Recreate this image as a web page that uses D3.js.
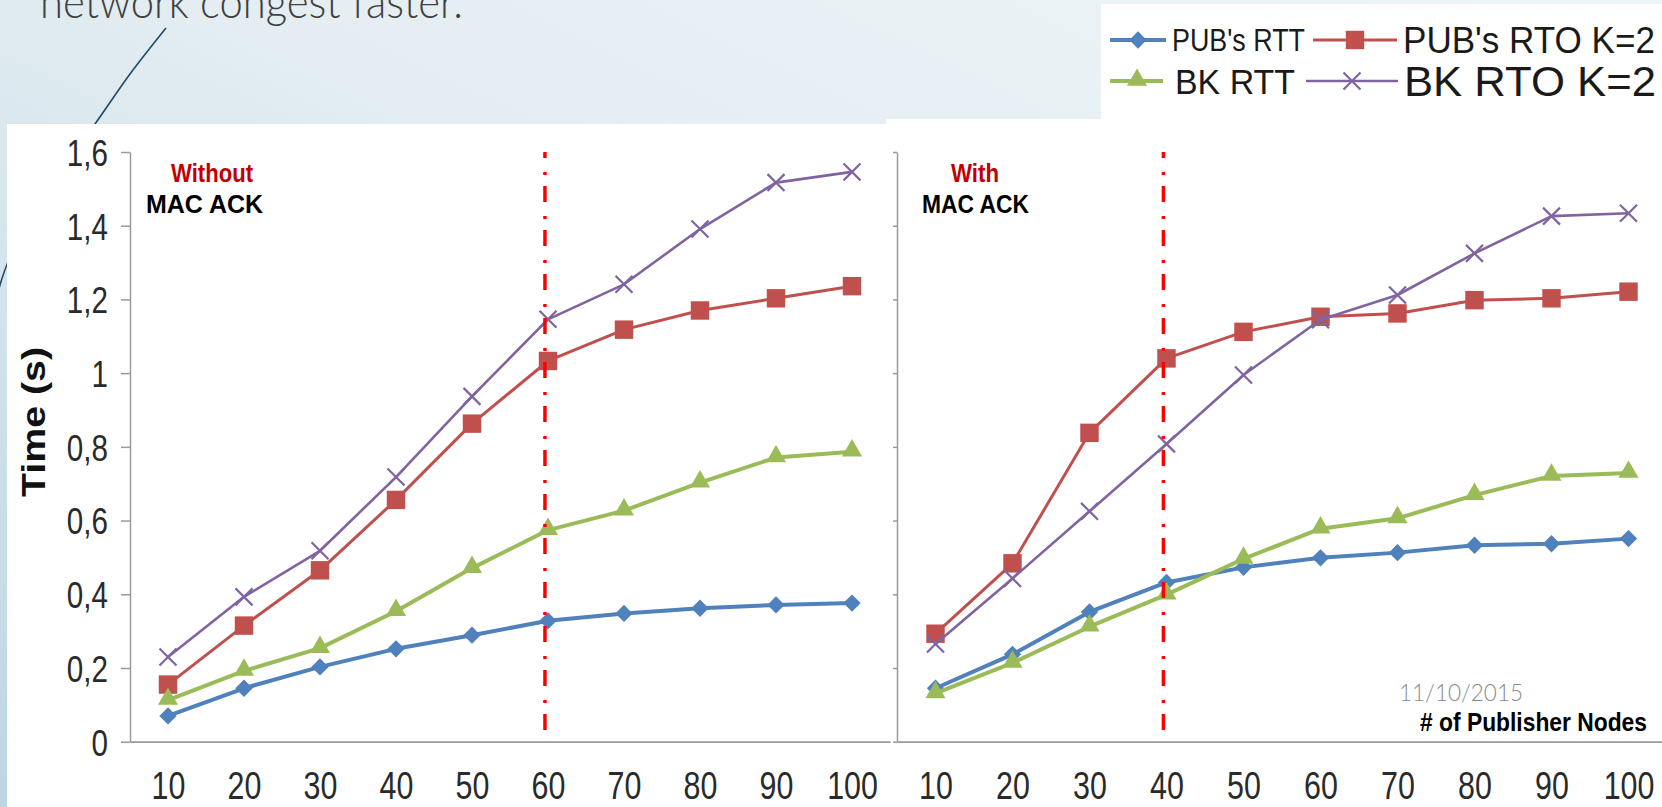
<!DOCTYPE html>
<html>
<head>
<meta charset="utf-8">
<script src="https://cdn.jsdelivr.net/npm/d3@7"></script>
<style>
html,body{margin:0;padding:0;overflow:hidden;background:#e6eff3;}
svg{display:block;}
</style>
</head>
<body>
<svg id="chart" width="1662" height="807"></svg>
<script>
// ---------------- data ----------------
const categories = [10, 20, 30, 40, 50, 60, 70, 80, 90, 100];
const yTicks = [0, 0.2, 0.4, 0.6, 0.8, 1, 1.2, 1.4, 1.6];
const yTickLabels = ["0", "0,2", "0,4", "0,6", "0,8", "1", "1,2", "1,4", "1,6"];
const seriesNames = ["PUB's RTT", "PUB's RTO K=2", "BK RTT", "BK RTO K=2"];

// Left panel: without MAC ACK
const leftPubRtt = [0.070, 0.145, 0.203, 0.252, 0.289, 0.328, 0.348, 0.362, 0.371, 0.376];
const leftPubRto = [0.155, 0.315, 0.465, 0.656, 0.863, 1.033, 1.118, 1.170, 1.203, 1.236];
const leftBkRtt  = [0.113, 0.192, 0.254, 0.354, 0.471, 0.574, 0.627, 0.703, 0.771, 0.787];
const leftBkRto  = [0.230, 0.393, 0.518, 0.718, 0.937, 1.146, 1.241, 1.391, 1.517, 1.546];

// Right panel: with MAC ACK
const rightPubRtt = [0.145, 0.237, 0.352, 0.432, 0.473, 0.499, 0.513, 0.533, 0.537, 0.551];
const rightPubRto = [0.293, 0.484, 0.838, 1.040, 1.112, 1.153, 1.162, 1.198, 1.203, 1.221];
const rightBkRtt  = [0.131, 0.214, 0.312, 0.399, 0.496, 0.578, 0.606, 0.669, 0.721, 0.729];
const rightBkRto  = [0.265, 0.443, 0.625, 0.808, 0.995, 1.145, 1.212, 1.325, 1.426, 1.434];

// vertical marker (red dash-dot) positions, in publisher-node units
const thresholdNodes = [59.6, 39.6];
const panelNotes = [["Without", "MAC ACK"], ["With", "MAC ACK"]];
const titleText = "network congest faster.";
const yAxisTitle = "Time (s)";
const xAxisTitle = "# of Publisher Nodes";
const dateText = "11/10/2015";

// ---------------- drawing ----------------
const W = 1662, H = 807;
const svg = d3.select("#chart");
const defs = svg.append("defs");
const grad = defs.append("linearGradient").attr("id", "bg")
  .attr("x1", "1").attr("y1", "0").attr("x2", "0").attr("y2", "1");
grad.append("stop").attr("offset", "0").attr("stop-color", "#eef5f8");
grad.append("stop").attr("offset", "0.45").attr("stop-color", "#e3edf2");
grad.append("stop").attr("offset", "1").attr("stop-color", "#bdd6e1");
svg.append("rect").attr("width", W).attr("height", H).attr("fill", "url(#bg)");

// slide title fragment (cut at the top, as in the slide)
svg.append("text").attr("x", 40).attr("y", 18)
  .attr("font-family", "Lato, 'Open Sans', sans-serif").attr("font-weight", 300)
  .attr("font-size", 46).attr("fill", "#404040")
  .attr("textLength", 423).attr("lengthAdjust", "spacingAndGlyphs")
  .text(titleText);

// decorative slide line
svg.append("path")
  .attr("d", d3.line().curve(d3.curveCatmullRom)([[166, 28], [130, 74], [95, 124], [45, 192], [8, 262], [-2, 292]]))
  .attr("fill", "none").attr("stroke", "#1f4a66").attr("stroke-width", 1.6);

// white chart pictures
svg.append("rect").attr("x", 7).attr("y", 124).attr("width", 879).attr("height", H - 124).attr("fill", "#fff");
svg.append("rect").attr("x", 886).attr("y", 119).attr("width", W - 886).attr("height", H - 119).attr("fill", "#fff");
svg.append("rect").attr("x", 1101).attr("y", 4).attr("width", W - 1101).attr("height", 115).attr("fill", "#fff");

const y = d3.scaleLinear().domain([0, 1.6]).range([741.7, 152]);

const styles = [
  { color: "#4f81bd", width: 4, sym: "diamond" },
  { color: "#c0504d", width: 3, sym: "square" },
  { color: "#9bbb59", width: 4, sym: "triangle" },
  { color: "#8064a2", width: 2.6, sym: "x" }
];

function drawMarker(sel, st, cx, cy) {
  if (st.sym === "diamond") {
    sel.append("path").attr("d", d3.symbol(d3.symbolSquare, 150)())
      .attr("transform", `translate(${cx},${cy}) rotate(45)`).attr("fill", st.color);
  } else if (st.sym === "square") {
    sel.append("path").attr("d", d3.symbol(d3.symbolSquare, 340)())
      .attr("transform", `translate(${cx},${cy})`).attr("fill", st.color);
  } else if (st.sym === "triangle") {
    sel.append("path").attr("d", d3.symbol(d3.symbolTriangle, 175)())
      .attr("transform", `translate(${cx},${cy - 1})`).attr("fill", st.color);
  } else {
    sel.append("path").attr("d", d3.symbol(d3.symbolX, 190)())
      .attr("transform", `translate(${cx},${cy})`).attr("fill", "none")
      .attr("stroke", st.color).attr("stroke-width", 2.2);
  }
}

const panels = [
  { range: [130, 890], series: [leftPubRtt, leftPubRto, leftBkRtt, leftBkRto], labels: true,
    noteX: [171, 146], noteLen: [82, 117] },
  { range: [897, 1667], series: [rightPubRtt, rightPubRto, rightBkRtt, rightBkRto], labels: false,
    noteX: [951, 922], noteLen: [48, 107] }
];

panels.forEach((p, pi) => {
  const x = d3.scalePoint().domain(categories).range(p.range).padding(0.5);
  const xLin = d3.scaleLinear().domain([categories[0], categories[categories.length - 1]])
    .range([x(categories[0]), x(categories[categories.length - 1])]);
  const g = svg.append("g");

  // y axis
  const ya = d3.axisLeft(y).tickValues(yTicks)
    .tickFormat((d, i) => p.labels ? yTickLabels[i] : "")
    .tickSize(p.labels ? 9 : 4).tickSizeOuter(0);
  const yg = g.append("g").attr("transform", `translate(${p.range[0]},0)`).call(ya);
  yg.select(".domain").attr("stroke", "#9a9a9a").attr("stroke-width", 1.5);
  yg.selectAll(".tick line").attr("stroke", "#9a9a9a").attr("stroke-width", 1.5);
  yg.selectAll(".tick text")
    .attr("font-family", "'Liberation Sans', Arial, sans-serif").attr("font-size", 37)
    .attr("fill", "#2a2a2a").attr("x", -22 / 0.8).attr("dy", "0.36em")
    .attr("transform", "scale(0.8,1)");

  // x axis
  const xa = d3.axisBottom(x).tickSize(0).tickSizeOuter(0);
  const xg = g.append("g").attr("transform", `translate(0,${y(0)})`).call(xa);
  xg.select(".domain").attr("stroke", "#9a9a9a").attr("stroke-width", 1.8);
  xg.selectAll(".tick text")
    .attr("font-family", "'Liberation Sans', Arial, sans-serif").attr("font-size", 38)
    .attr("fill", "#2a2a2a").attr("y", 57).attr("dy", 0)
    .attr("transform", "scale(0.8,1)");

  // series
  p.series.forEach((vals, si) => {
    const st = styles[si];
    const pts = categories.map((c, i) => [x(c), y(vals[i])]);
    g.append("path").attr("d", d3.line()(pts)).attr("fill", "none")
      .attr("stroke", st.color).attr("stroke-width", st.width).attr("stroke-linejoin", "round");
    pts.forEach(pt => drawMarker(g, st, pt[0], pt[1]));
  });

  // red dash-dot threshold line
  const tx = xLin(thresholdNodes[pi]);
  g.append("line").attr("x1", tx).attr("x2", tx).attr("y1", 152).attr("y2", 733)
    .attr("stroke", "#ff0000").attr("stroke-width", 3.5)
    .attr("stroke-dasharray", "16,14,3,11").attr("stroke-dashoffset", 10);

  // notes
  const note = panelNotes[pi];
  g.append("text").attr("x", p.noteX[0]).attr("y", 182)
    .attr("font-family", "'Liberation Sans', Arial, sans-serif").attr("font-weight", "bold")
    .attr("font-size", 26).attr("fill", "#c00000")
    .attr("textLength", p.noteLen[0]).attr("lengthAdjust", "spacingAndGlyphs").text(note[0]);
  g.append("text").attr("x", p.noteX[1]).attr("y", 213)
    .attr("font-family", "'Liberation Sans', Arial, sans-serif").attr("font-weight", "bold")
    .attr("font-size", 26).attr("fill", "#000")
    .attr("textLength", p.noteLen[1]).attr("lengthAdjust", "spacingAndGlyphs").text(note[1]);
});

// y axis title
svg.append("text").attr("transform", "translate(45,422) rotate(-90)")
  .attr("text-anchor", "middle")
  .attr("font-family", "'Liberation Sans', Arial, sans-serif").attr("font-weight", "bold")
  .attr("font-size", 33).attr("fill", "#111")
  .attr("textLength", 150).attr("lengthAdjust", "spacingAndGlyphs").text(yAxisTitle);

// date and x axis title
svg.append("text").attr("x", 1399).attr("y", 701)
  .attr("font-family", "Lato, 'Open Sans', sans-serif").attr("font-weight", 300)
  .attr("font-size", 23).attr("fill", "#8a8a8a")
  .attr("textLength", 124).attr("lengthAdjust", "spacingAndGlyphs").text(dateText);
svg.append("text").attr("x", 1420).attr("y", 731)
  .attr("font-family", "'Liberation Sans', Arial, sans-serif").attr("font-weight", "bold")
  .attr("font-size", 25).attr("fill", "#000")
  .attr("textLength", 227).attr("lengthAdjust", "spacingAndGlyphs").text(xAxisTitle);

// legend
const legendLayout = [
  { cy: 40, x0: 1110, x1: 1166, mx: 1138, tx: 1172, tl: 133, fs: 31 },
  { cy: 40, x0: 1313, x1: 1397, mx: 1355, tx: 1403, tl: 252, fs: 36 },
  { cy: 81, x0: 1110, x1: 1163, mx: 1137, tx: 1175, tl: 120, fs: 35 },
  { cy: 81, x0: 1306, x1: 1398, mx: 1352, tx: 1404, tl: 252, fs: 43 }
];
const lg = svg.append("g");
seriesNames.forEach((name, i) => {
  const L = legendLayout[i], st = styles[i];
  lg.append("line").attr("x1", L.x0).attr("x2", L.x1).attr("y1", L.cy).attr("y2", L.cy)
    .attr("stroke", st.color).attr("stroke-width", st.width);
  drawMarker(lg, st, L.mx, L.cy);
  lg.append("text").attr("x", L.tx).attr("y", L.cy + 0.36 * L.fs)
    .attr("font-family", "'Liberation Sans', Arial, sans-serif").attr("font-size", L.fs)
    .attr("fill", "#1a1a1a").attr("textLength", L.tl).attr("lengthAdjust", "spacingAndGlyphs")
    .text(name);
});
</script>
</body>
</html>
